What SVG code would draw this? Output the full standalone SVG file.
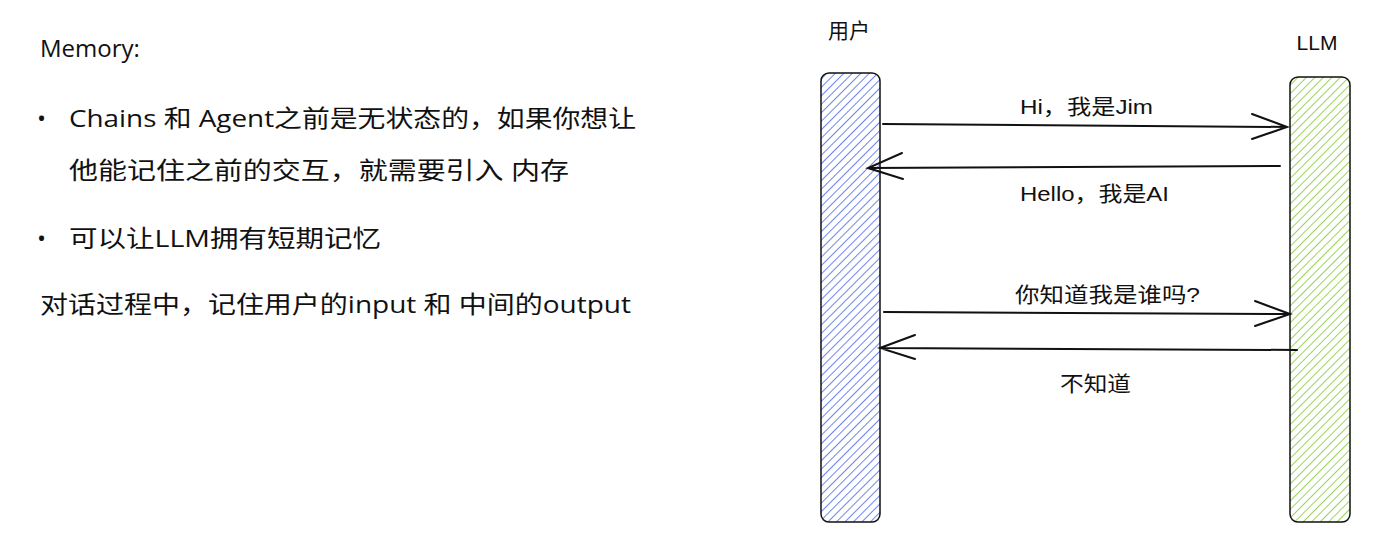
<svg xmlns="http://www.w3.org/2000/svg" width="1387" height="542" viewBox="0 0 1387 542">
<style>
.t{font-family:"Liberation Sans","Noto Sans CJK SC",sans-serif;fill:#111}
.b{font-family:"Open Sans","Noto Sans CJK SC",sans-serif;fill:#111;font-size:24px}
.c{stroke:#111;stroke-width:2;fill:none;stroke-linecap:round}
</style>
<defs>
<pattern id="hb" width="6" height="6" patternUnits="userSpaceOnUse" patternTransform="rotate(45)"><line x1="0" y1="0" x2="0" y2="6" stroke="#4a66e6" stroke-width="1.6"/></pattern>
<pattern id="hg" width="6" height="6" patternUnits="userSpaceOnUse" patternTransform="rotate(45)"><line x1="0" y1="0" x2="0" y2="6" stroke="#84c832" stroke-width="1.6"/></pattern>
</defs>
<rect width="1387" height="542" fill="#fff"/>
<g id="text">
<text class="b" x="40" y="57" font-size="23">Memory:</text>
<text class="b" x="37" y="127" font-size="28">•</text>
<text class="b" x="69" y="127" textLength="567" lengthAdjust="spacingAndGlyphs">Chains 和 Agent之前是无状态的，如果你想让</text>
<text class="b" x="69" y="179" textLength="500" lengthAdjust="spacingAndGlyphs">他能记住之前的交互，就需要引入 内存</text>
<text class="b" x="37" y="247" font-size="28">•</text>
<text class="b" x="69" y="247" textLength="312" lengthAdjust="spacingAndGlyphs">可以让LLM拥有短期记忆</text>
<text class="b" x="40" y="313" textLength="591" lengthAdjust="spacingAndGlyphs">对话过程中，记住用户的input 和 中间的output</text>
</g>
<g id="user">
<rect x="821" y="73" width="59" height="449" rx="8" fill="url(#hb)" stroke="#111" stroke-width="1.5"/>
<text class="t" x="849" y="38" font-size="21" text-anchor="middle">用户</text>
</g>
<g id="llm">
<rect x="1290" y="77" width="60" height="445" rx="8" fill="url(#hg)" stroke="#111" stroke-width="1.5"/>
<text class="t" x="1317" y="50" font-size="21" text-anchor="middle">LLM</text>
</g>
<g id="connectors">
<path class="c" d="M883 124 L1287 127 M1252 114 L1287 127 L1252 139"/>
<path class="c" d="M1280 166 L868 168 M902 153 L868 168 L903 179"/>
<path class="c" d="M884 312 L1290 314 M1255 301 L1290 314 L1255 326"/>
<path class="c" d="M1297 350 L880 348 M915 335 L880 348 L915 359"/>
</g>
<g id="labels">
<text class="t" x="1020" y="114" font-size="21" textLength="133" lengthAdjust="spacingAndGlyphs">Hi，我是Jim</text>
<text class="t" x="1020" y="201" font-size="21" textLength="149" lengthAdjust="spacingAndGlyphs">Hello，我是AI</text>
<text class="t" x="1015" y="302" font-size="21" textLength="185" lengthAdjust="spacingAndGlyphs">你知道我是谁吗?</text>
<text class="t" x="1060" y="391" font-size="21" textLength="71" lengthAdjust="spacingAndGlyphs">不知道</text>
</g>
</svg>
